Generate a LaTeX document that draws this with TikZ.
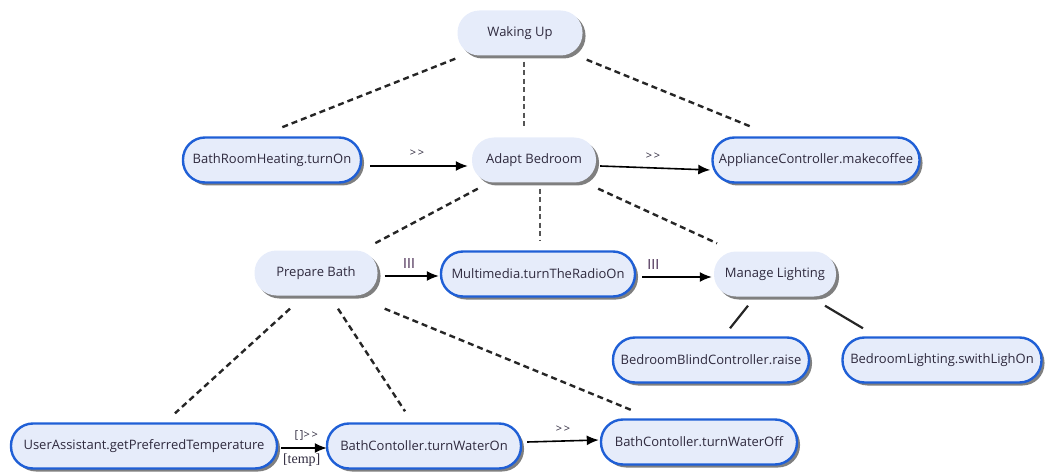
\documentclass[tikz,border=0pt]{standalone}
\usepackage{fontspec}
\setmainfont{Open Sans}
\newfontfamily\guardfont{Liberation Serif}
\usetikzlibrary{shadows,arrows.meta,calc}
\definecolor{nodefill}{HTML}{E6ECFA}
\definecolor{nodeedge}{HTML}{1F5FD6}
\definecolor{ink}{HTML}{2F2A3E}
\definecolor{linkgray}{HTML}{555555}
\tikzset{
  pill/.style={rectangle, rounded corners=22pt, minimum height=45pt, inner sep=0pt,
    fill=nodefill, text=ink, font=\fontsize{13}{15}\selectfont,
    drop shadow={shadow xshift=3pt, shadow yshift=-3pt, fill=black, opacity=0.5}},
  task/.style={pill, draw=nodeedge, line width=2.4pt},
  group/.style={pill},
  decomp/.style={line width=2.4pt, dash pattern=on 6pt off 4pt, black!85},
  thindecomp/.style={line width=1.1pt, dash pattern=on 5pt off 3.5pt, linkgray},
  leaf/.style={line width=2.2pt, black!85},
  seq/.style={line width=1.6pt, black, -{Latex[length=12pt,width=10pt]}},
  oplabel/.style={font=\fontsize{11}{13}\selectfont, text=ink, inner sep=1pt},
  parlabel/.style={font=\fontsize{14}{16}\selectfont, text=ink!80!violet, inner sep=1pt},
  guardlabel/.style={font=\guardfont\fontsize{14}{16}\selectfont, text=ink, inner sep=1pt},
}
\begin{document}
\begin{tikzpicture}[x=1pt,y=-1pt]
\useasboundingbox (0,0) rectangle (1045,476);

% upper level
\node[group, minimum width=125pt] (wake) at (520,33) {Waking Up};
\node[task,  minimum width=178pt] (heat) at (272,160) {BathRoomHeating.turnOn};
\node[group, minimum width=124pt] (adapt) at (534,160) {Adapt Bedroom};
\node[task,  minimum width=207pt] (coffee) at (816,160) {ApplianceController.makecoffee};

% bedroom level
\node[group, minimum width=123pt] (prep) at (316,273) {Prepare Bath};
\node[task,  minimum width=194pt] (radio) at (538,274) {Multimedia.turnTheRadioOn};
\node[group, minimum width=122pt] (light) at (775,274) {Manage Lighting};

% leaves
\node[task, minimum width=196pt] (blind) at (711,360) {BedroomBlindController.raise};
\node[task, minimum width=199pt] (lampon) at (942,360) {BedroomLighting.swithLighOn};
\node[task, minimum width=266pt] (user) at (144,446) {UserAssistant.getPreferredTemperature};
\node[task, minimum width=194pt] (won) at (424,446) {BathContoller.turnWaterOn};
\node[task, minimum width=196pt] (woff) at (699,442) {BathContoller.turnWaterOff};

% decomposition links
\draw[decomp] ($(wake.south west)+(-2,3)$) -- ($(heat.north)+(10,-9)$);
\draw[thindecomp] ($(wake.south)+(4,6)$) -- ($(adapt.north)+(-10,-8)$);
\draw[decomp] ($(wake.south east)+(4,4)$) -- ($(coffee.north)+(-66,-10)$);

\draw[decomp] ($(adapt.south west)+(6,6)$) -- ($(prep.north)+(59,-7)$);
\draw[thindecomp] ($(adapt.south)+(6,6)$) -- ($(radio.north)+(2,-9)$);
\draw[decomp] ($(adapt.south east)+(2,6)$) -- ($(light.north)+(-58,-8)$);

\draw[decomp] ($(prep.south)+(-26,13)$) -- ($(user.north)+(31,-9)$);
\draw[decomp] ($(prep.south)+(22,13)$) -- ($(won.north)+(-19,-11)$);
\draw[decomp] ($(prep.south east)+(7,13)$) -- ($(woff.north)+(-67,-8)$);

\draw[leaf] ($(light.south)+(-27,9)$) -- ($(blind.north)+(19,-8)$);
\draw[leaf] ($(light.south)+(50,9)$) -- ($(lampon.north)+(-79,-8)$);

% ordering arrows
\draw[seq] ($(heat.east)+(8,6)$) -- node[oplabel, above=8pt, pos=0.48] {>\,>} ($(adapt.west)+(-4,6)$);
\draw[seq] ($(adapt.east)+(4,6)$) -- node[oplabel, above=7pt, pos=0.48] {>\,>} ($(coffee.west)+(-1,10)$);
\draw[seq] ($(prep.east)+(7,3)$) -- node[parlabel, above=6pt, pos=0.45] {III} ($(radio.west)+(-1,2)$);
\draw[seq] ($(radio.east)+(6,3)$) -- node[parlabel, above=6pt, pos=0.05, anchor=south west] {III} ($(light.west)+(-2,3)$);
\draw[seq] ($(user.east)+(3,2)$) -- node[oplabel, above=6pt, pos=0.55] {[\,]>\,>}
  node[guardlabel, below=4pt, pos=0.45] {[temp]} ($(won.west)+(1,2)$);
\draw[seq] ($(won.east)+(5,-4)$) -- node[oplabel, above=7pt, pos=0.5] {>\,>} ($(woff.west)+(-1,-2)$);
\end{tikzpicture}
\end{document}
